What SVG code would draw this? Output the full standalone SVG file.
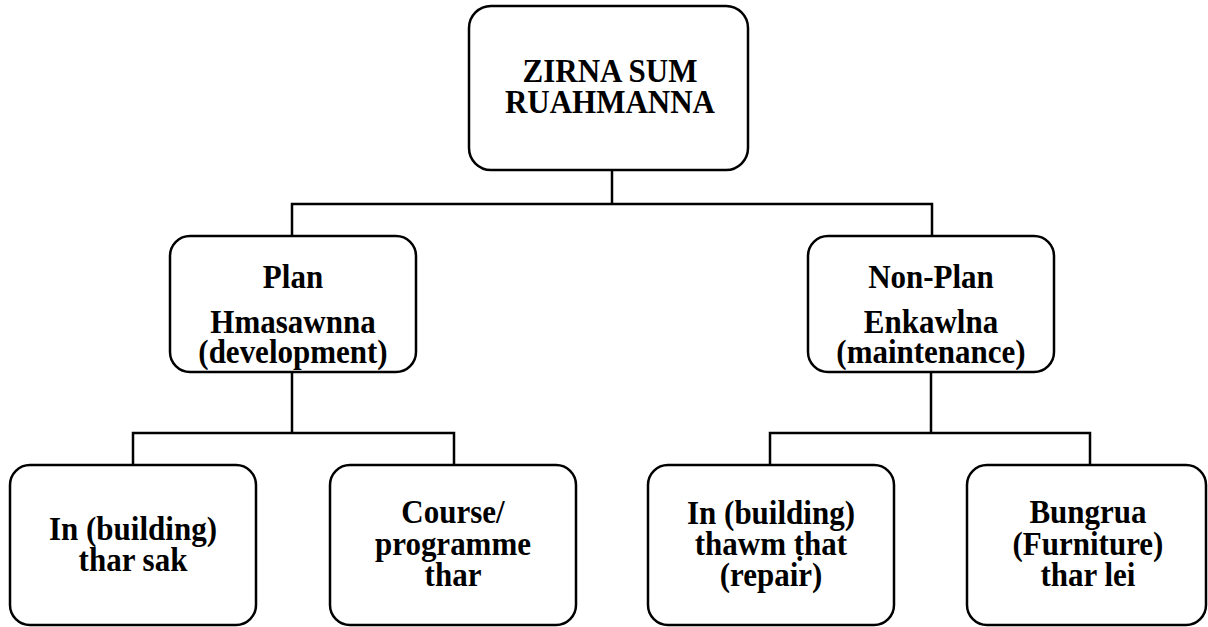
<svg xmlns="http://www.w3.org/2000/svg" width="1208" height="627" viewBox="0 0 1208 627">
<style>
.box{fill:#fff;stroke:#000;stroke-width:2.5}
.ln{fill:none;stroke:#000;stroke-width:2.5}
.t{font-family:'Liberation Serif','Times New Roman',Times,serif;font-weight:700;font-size:31px;text-anchor:middle;fill:#000}
</style>
<rect width="1208" height="627" fill="#fff"/>
<g id="connectors">
<polyline class="ln" points="612,170 612,204"/>
<polyline class="ln" points="292,236 292,204 932,204 932,236"/>
<polyline class="ln" points="292,372 292,433"/>
<polyline class="ln" points="133,465 133,433 454,433 454,465"/>
<polyline class="ln" points="931,372 931,433"/>
<polyline class="ln" points="770,465 770,433 1090,433 1090,465"/>
</g>
<g id="root">
<rect class="box" x="469" y="6" width="279" height="164" rx="22"/>
<text class="t" x="610" y="82" transform="matrix(1,0,0,1.07,0,-5.74)">ZIRNA SUM</text>
<text class="t" x="610" y="113" transform="matrix(1,0,0,1.07,0,-7.91)">RUAHMANNA</text>
</g>
<g id="plan">
<rect class="box" x="170" y="236" width="246" height="136" rx="20"/>
<text class="t" x="293" y="288" transform="matrix(1,0,0,1.07,0,-20.16)">Plan</text>
<text class="t" x="293" y="333" transform="matrix(1,0,0,1.07,0,-23.31)">Hmasawnna</text>
<text class="t" x="293" y="363" transform="matrix(1,0,0,1.07,0,-25.41)">(development)</text>
</g>
<g id="nonplan">
<rect class="box" x="808" y="236" width="246" height="136" rx="20"/>
<text class="t" x="931" y="288" transform="matrix(1,0,0,1.07,0,-20.16)">Non-Plan</text>
<text class="t" x="931" y="333" transform="matrix(1,0,0,1.07,0,-23.31)">Enkawlna</text>
<text class="t" x="931" y="363" transform="matrix(1,0,0,1.07,0,-25.41)">(maintenance)</text>
</g>
<g id="building">
<rect class="box" x="10" y="465" width="246" height="160" rx="20"/>
<text class="t" x="133" y="540" transform="matrix(1,0,0,1.07,0,-37.8)">In (building)</text>
<text class="t" x="133" y="571" transform="matrix(1,0,0,1.07,0,-39.97)">thar sak</text>
</g>
<g id="course">
<rect class="box" x="330" y="465" width="246" height="160" rx="20"/>
<text class="t" x="453" y="523" transform="matrix(1,0,0,1.07,0,-36.61)">Course/</text>
<text class="t" x="453" y="555" transform="matrix(1,0,0,1.07,0,-38.85)">programme</text>
<text class="t" x="453" y="586" transform="matrix(1,0,0,1.07,0,-41.02)">thar</text>
</g>
<g id="repair">
<rect class="box" x="648" y="465" width="246" height="160" rx="20"/>
<text class="t" x="771" y="524" transform="matrix(1,0,0,1.07,0,-36.68)">In (building)</text>
<text class="t" x="771" y="555" transform="matrix(1,0,0,1.07,0,-38.85)">thawm ṭhat</text>
<text class="t" x="771" y="586" transform="matrix(1,0,0,1.07,0,-41.02)">(repair)</text>
</g>
<g id="furniture">
<rect class="box" x="967" y="465" width="239" height="160" rx="20"/>
<text class="t" x="1088" y="523" transform="matrix(1,0,0,1.07,0,-36.61)">Bungrua</text>
<text class="t" x="1088" y="555" transform="matrix(1,0,0,1.07,0,-38.85)">(Furniture)</text>
<text class="t" x="1088" y="586" transform="matrix(1,0,0,1.07,0,-41.02)">thar lei</text>
</g>
</svg>
